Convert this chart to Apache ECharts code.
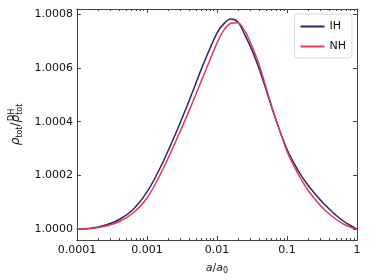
<!DOCTYPE html>
<html><head><meta charset="utf-8">
<script src="https://cdn.jsdelivr.net/npm/echarts@6/dist/echarts.min.js"></script>
<style>html,body{margin:0;padding:0;background:#fff}#c{width:374px;height:280px}</style>
</head><body><div id="c"></div>
<script>
// scale factor a/a0
const aVals = [0.0001, 0.0001585, 0.0002512, 0.0003981, 0.000631, 0.001, 0.001585, 0.002512, 0.003981, 0.00631, 0.01, 0.01259, 0.01585, 0.01995, 0.02512, 0.03162, 0.03981, 0.05012, 0.0631, 0.07943, 0.1, 0.1259, 0.1585, 0.1995, 0.2512, 0.3162, 0.3981, 0.5012, 0.631, 0.7943, 1];
// rho_tot / rho_tot^DH
const ihVals = [1.0000000, 1.0000037, 1.0000149, 1.0000353, 1.0000726, 1.0001377, 1.0002344, 1.0003498, 1.0004763, 1.0006102, 1.0007293, 1.0007647, 1.0007814, 1.0007702, 1.0007219, 1.0006660, 1.0005991, 1.0005209, 1.0004391, 1.0003646, 1.0002977, 1.0002456, 1.0002009, 1.0001637, 1.0001321, 1.0001023, 1.0000763, 1.0000521, 1.0000316, 1.0000149, 1.0000000];
const nhVals = [1.0000000, 1.0000026, 1.0000112, 1.0000279, 1.0000595, 1.0001153, 1.0002084, 1.0003200, 1.0004391, 1.0005656, 1.0006921, 1.0007405, 1.0007658, 1.0007680, 1.0007367, 1.0006809, 1.0006140, 1.0005284, 1.0004428, 1.0003646, 1.0002902, 1.0002344, 1.0001860, 1.0001451, 1.0001116, 1.0000819, 1.0000577, 1.0000372, 1.0000205, 1.0000082, 1.0000000];
const xMajorTicks = [0.0001, 0.001, 0.01, 0.1, 1];
const yTickLabels = ['1.0000', '1.0002', '1.0004', '1.0006', '1.0008'];
const seriesNames = ['IH', 'NH'];
const xMinorTicks = [];
for (let e = -4; e < 0; e++) for (let m = 2; m <= 9; m++) xMinorTicks.push(+(m * Math.pow(10, e)).toPrecision(2));

const FONT = 'DejaVu Sans';
const frame = '#444';
const chart = echarts.init(document.getElementById('c'), null, {renderer: 'canvas'});
const xBase = {type: 'log', logBase: 10, min: 0.0001, max: 1, gridIndex: 0,
  axisLine: {show: true, lineStyle: {color: frame, width: 1}}, splitLine: {show: false}};
const yBase = {type: 'value', min: 0.99996, max: 1.000819, splitNumber: 4,
  axisLine: {show: true, lineStyle: {color: frame, width: 1}}, splitLine: {show: false}};
const yName = '{i|ρ}{s|tot}{n|/}{i|ρ}{p|DH}{s|tot}';
chart.setOption({
  animation: false,
  grid: {left: 67, right: 17, top: 9, bottom: 40},
  legend: {
    data: seriesNames, orient: 'vertical', right: 22, top: 14,
    icon: 'rect', itemWidth: 24, itemHeight: 2, itemGap: 9,
    padding: [7, 6, 6, 6], borderColor: '#d8d8d8', borderWidth: 1, borderRadius: 3,
    textStyle: {fontFamily: FONT, fontSize: 11, color: '#111'}
  },
  xAxis: [
    Object.assign({}, xBase, {position: 'bottom',
      axisTick: {inside: true, length: 4, customValues: xMajorTicks, lineStyle: {color: frame}},
      axisLabel: {customValues: xMajorTicks, margin: 5, fontFamily: FONT, fontSize: 11, color: '#111',
        formatter: v => String(+(+v).toPrecision(1))},
      name: '{i|a}{n|/}{i|a}{s|0}', nameLocation: 'middle', nameGap: 22,
      nameTextStyle: {rich: {
        i: {fontFamily: FONT, fontStyle: 'italic', fontSize: 11, color: '#111'},
        n: {fontFamily: FONT, fontSize: 11, color: '#111'},
        s: {fontFamily: FONT, fontSize: 8, color: '#111', padding: [5, 0, 0, 0]}}}}),
    Object.assign({}, xBase, {position: 'bottom',
      axisTick: {inside: true, length: 2, customValues: xMinorTicks, lineStyle: {color: frame}},
      axisLabel: {show: false}}),
    Object.assign({}, xBase, {position: 'top',
      axisTick: {inside: true, length: 4, customValues: xMajorTicks, lineStyle: {color: frame}},
      axisLabel: {show: false}}),
    Object.assign({}, xBase, {position: 'top',
      axisTick: {inside: true, length: 2, customValues: xMinorTicks, lineStyle: {color: frame}},
      axisLabel: {show: false}})
  ],
  yAxis: [
    Object.assign({}, yBase, {position: 'left',
      axisTick: {inside: true, length: 4, lineStyle: {color: frame}},
      axisLabel: {showMinLabel: false, showMaxLabel: false, margin: 4, fontFamily: FONT, fontSize: 11, color: '#111',
        formatter: v => yTickLabels[Math.round((v - 1) / 0.0002)] || ''},
      name: yName, nameLocation: 'middle', nameGap: 47, nameRotate: 90,
      nameTextStyle: {rich: {
        i: {fontFamily: FONT, fontStyle: 'italic', fontSize: 12, color: '#111'},
        n: {fontFamily: FONT, fontSize: 12, color: '#111'},
        s: {fontFamily: FONT, fontSize: 8, color: '#111', padding: [7, 0, 0, 0]},
        p: {fontFamily: FONT, fontSize: 8, color: '#111', width: 0, padding: [0, 0, 8, 0]}}}}),
    Object.assign({}, yBase, {position: 'right',
      axisTick: {inside: true, length: 4, lineStyle: {color: frame}},
      axisLabel: {show: false}})
  ],
  series: [
    {name: seriesNames[0], type: 'line', xAxisIndex: 0, yAxisIndex: 0, showSymbol: false, smooth: 0.3,
      lineStyle: {color: '#27296b', width: 1.5}, itemStyle: {color: '#27296b'},
      data: aVals.map((a, i) => [a, ihVals[i]])},
    {name: seriesNames[1], type: 'line', xAxisIndex: 0, yAxisIndex: 0, showSymbol: false, smooth: 0.3,
      lineStyle: {color: '#e8384e', width: 1.5}, itemStyle: {color: '#e8384e'},
      data: aVals.map((a, i) => [a, nhVals[i]])}
  ]
});
</script></body></html>
